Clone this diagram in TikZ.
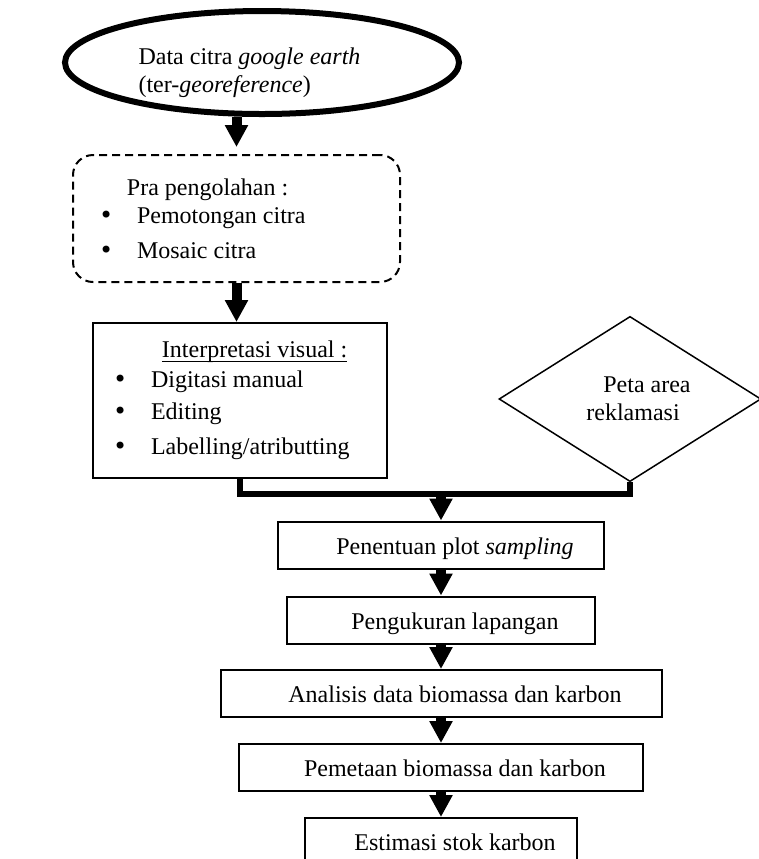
\documentclass[tikz,border=0pt]{standalone}
\usepackage{fontspec}
\setmainfont{Liberation Serif}
\newfontfamily\dejavu{DejaVu Sans}
\usetikzlibrary{shapes.geometric,arrows.meta}
\newcommand{\bul}{\makebox[18pt][l]{\hspace*{-1pt}{\dejavu •}}}
\newcommand{\garis}[1]{\setbox0\hbox{#1}\rlap{\rule[-2.2pt]{\wd0}{0.6pt}}\box0}
\begin{document}
\begin{tikzpicture}[x=0.5pt, y=-0.5pt,
    font=\fontsize{12}{14}\selectfont,
    startnode/.style={ellipse, draw, line width=3pt, minimum width=197pt, minimum height=51.5pt, inner sep=0pt},
    prebox/.style={rectangle, draw, dash pattern=on 4pt off 2.5pt, rounded corners=10pt, line width=1pt, text width=135.5pt, inner xsep=14pt, minimum height=63.5pt, align=flush left},
    listbox/.style={rectangle, draw, line width=1pt, text width=125pt, inner xsep=11pt, minimum height=77.5pt, align=flush left},
    mapnode/.style={diamond, draw, line width=0.75pt, minimum width=131pt, minimum height=76pt, inner sep=0pt, align=flush left},
    proc/.style={rectangle, draw, line width=1pt, minimum height=23.5pt, text height=9.5pt, text depth=0.5pt, execute at begin node={\hspace*{14pt}}},
    arrow/.style={line width=5pt, -{Triangle[width=11pt, length=11pt]}},
    bar/.style={line width=3pt}
]
    \useasboundingbox (0,0) rectangle (759,859);

    % Input
    \node[startnode, label={[align=flush left, xshift=-6.25pt, yshift=-5pt]center:Data citra \textit{google earth}\\(ter-\textit{georeference})}] (data) at (262,62.5) {};
    \node[mapnode] (peta) at (630,399) {\hspace*{17pt}Peta area\\\hspace*{8.5pt}reklamasi};

    % Pra pengolahan dan interpretasi
    \node[prebox] (pra) at (236.5,218.5) {\hspace*{13pt}Pra pengolahan :\\ \bul Pemotongan citra\\[3.5pt] \bul Mosaic citra};
    \node[listbox] (interp) at (240,400.5) {\hspace*{23.5pt}\garis{Interpretasi visual :}\\[1pt] \bul Digitasi manual\\[2pt] \bul Editing\\[3.5pt] \bul Labelling/atributting};

    % Tahapan lapangan
    \node[proc, minimum width=163pt] (plot) at (441,545) {Penentuan plot \textit{sampling}};
    \node[proc, minimum width=154pt] (ukur) at (441,620) {Pengukuran lapangan};
    \node[proc, minimum width=220.5pt] (analisis) at (441,693.5) {Analisis data biomassa dan karbon};
    \node[proc, minimum width=202pt] (pemetaan) at (441,767.5) {Pemetaan biomassa dan karbon};
    \node[proc, minimum width=136pt] (estimasi) at (441,841.5) {Estimasi stok karbon};

    % Alur
    \coordinate (gabung) at (441,494);
    \draw[arrow, shorten >=3.5pt] (data.south -| pra.north) -- (pra.north);
    \draw[arrow] (pra.south) -- (pra.south |- interp.north);
    \draw[bar] (interp.south) |- (gabung) -| (peta.south);
    \draw[arrow] (gabung) -- (plot.north);
    \draw[arrow] (plot.south) -- (ukur.north);
    \draw[arrow] (ukur.south) -- (analisis.north);
    \draw[arrow] (analisis.south) -- (pemetaan.north);
    \draw[arrow] (pemetaan.south) -- (estimasi.north);
\end{tikzpicture}
\end{document}
